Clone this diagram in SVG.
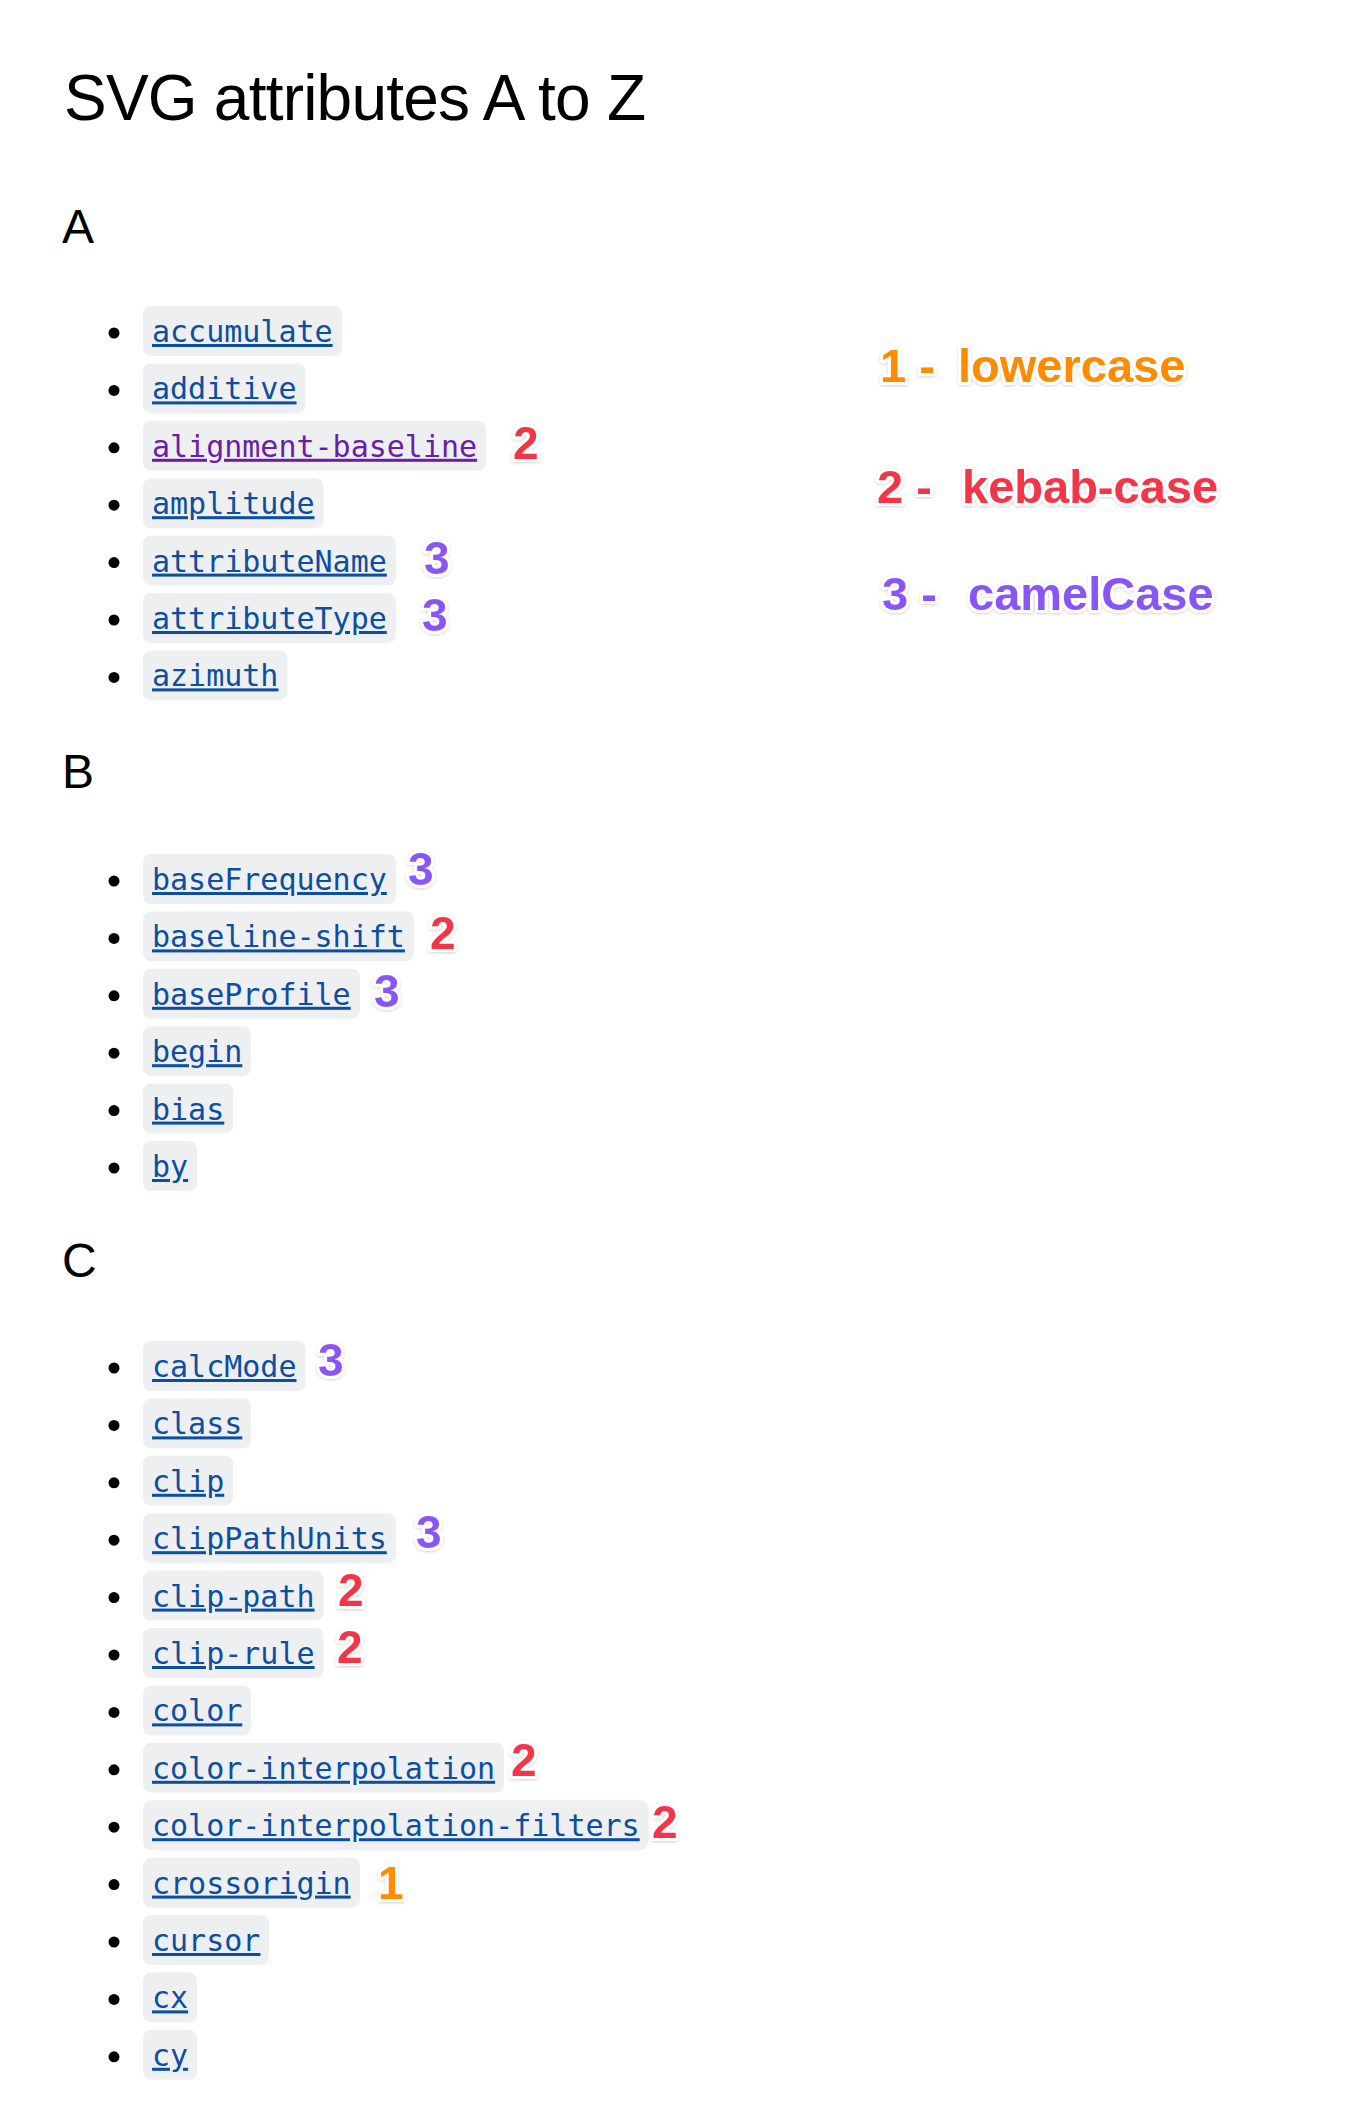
<svg xmlns="http://www.w3.org/2000/svg" width="1364" height="2118" viewBox="0 0 1364 2118">
<defs>
<style>
.h{font-family:"Liberation Sans",Arial,sans-serif;fill:#000}
.b{fill:#000}
.box{fill:#eeeff1}
.c{font-family:"DejaVu Sans Mono",monospace;font-size:30px;fill:#0b4ea2;text-decoration:underline}
.v{fill:#6a1ea8}
.n{font-family:"Liberation Sans",Arial,sans-serif;font-weight:bold;font-size:46px;stroke:#fff;stroke-width:6px;stroke-linejoin:round;paint-order:stroke;filter:url(#sh)}
.l{font-family:"Liberation Sans",Arial,sans-serif;font-weight:bold;font-size:47px;stroke:#fff;stroke-width:6px;stroke-linejoin:round;paint-order:stroke;filter:url(#sh)}
.o{fill:#ff8c00}.r{fill:#f23446}.p{fill:#8a55f7}
</style>
<filter id="sh" x="-20%" y="-20%" width="140%" height="140%"><feDropShadow dx="0" dy="1" stdDeviation="1.5" flood-color="#000" flood-opacity="0.18"/></filter>
</defs>
<text class="h" x="64" y="120" font-size="64" textLength="582">SVG attributes A to Z</text>
<text class="h" x="62" y="243" font-size="48">A</text>
<text class="h" x="62" y="788" font-size="48">B</text>
<text class="h" x="62" y="1277" font-size="48">C</text>

<g id="A-list">
<g id="accumulate" transform="translate(0,331)"><circle class="b" cx="114" cy="2" r="5.5"/><rect class="box" x="143" y="-25" width="199" height="50" rx="8"/><text class="c" x="152" y="11">accumulate</text></g>
<g id="additive" transform="translate(0,388.4)"><circle class="b" cx="114" cy="2" r="5.5"/><rect class="box" x="143" y="-25" width="162.5" height="50" rx="8"/><text class="c" x="152" y="11">additive</text></g>
<g id="alignment-baseline" transform="translate(0,445.8)"><circle class="b" cx="114" cy="2" r="5.5"/><rect class="box" x="143" y="-25" width="343" height="50" rx="8"/><text class="c v" x="152" y="11">alignment-baseline</text><text class="n r" x="513" y="13">2</text></g>
<g id="amplitude" transform="translate(0,503.2)"><circle class="b" cx="114" cy="2" r="5.5"/><rect class="box" x="143" y="-25" width="180.5" height="50" rx="8"/><text class="c" x="152" y="11">amplitude</text></g>
<g id="attributeName" transform="translate(0,560.6)"><circle class="b" cx="114" cy="2" r="5.5"/><rect class="box" x="143" y="-25" width="253" height="50" rx="8"/><text class="c" x="152" y="11">attributeName</text><text class="n p" x="424" y="13">3</text></g>
<g id="attributeType" transform="translate(0,618)"><circle class="b" cx="114" cy="2" r="5.5"/><rect class="box" x="143" y="-25" width="253" height="50" rx="8"/><text class="c" x="152" y="11">attributeType</text><text class="n p" x="422" y="13">3</text></g>
<g id="azimuth" transform="translate(0,675.4)"><circle class="b" cx="114" cy="2" r="5.5"/><rect class="box" x="143" y="-25" width="144.4" height="50" rx="8"/><text class="c" x="152" y="11">azimuth</text></g>
</g>

<g id="B-list">
<g id="baseFrequency" transform="translate(0,879)"><circle class="b" cx="114" cy="2" r="5.5"/><rect class="box" x="143" y="-25" width="253" height="50" rx="8"/><text class="c" x="152" y="11">baseFrequency</text><text class="n p" x="408" y="6">3</text></g>
<g id="baseline-shift" transform="translate(0,936.4)"><circle class="b" cx="114" cy="2" r="5.5"/><rect class="box" x="143" y="-25" width="271" height="50" rx="8"/><text class="c" x="152" y="11">baseline-shift</text><text class="n r" x="430" y="13">2</text></g>
<g id="baseProfile" transform="translate(0,993.8)"><circle class="b" cx="114" cy="2" r="5.5"/><rect class="box" x="143" y="-25" width="217" height="50" rx="8"/><text class="c" x="152" y="11">baseProfile</text><text class="n p" x="374" y="13">3</text></g>
<g id="begin" transform="translate(0,1051.2)"><circle class="b" cx="114" cy="2" r="5.5"/><rect class="box" x="143" y="-25" width="108" height="50" rx="8"/><text class="c" x="152" y="11">begin</text></g>
<g id="bias" transform="translate(0,1108.6)"><circle class="b" cx="114" cy="2" r="5.5"/><rect class="box" x="143" y="-25" width="90" height="50" rx="8"/><text class="c" x="152" y="11">bias</text></g>
<g id="by" transform="translate(0,1166)"><circle class="b" cx="114" cy="2" r="5.5"/><rect class="box" x="143" y="-25" width="54" height="50" rx="8"/><text class="c" x="152" y="11">by</text></g>
</g>

<g id="C-list">
<g id="calcMode" transform="translate(0,1366)"><circle class="b" cx="114" cy="2" r="5.5"/><rect class="box" x="143" y="-25" width="162.5" height="50" rx="8"/><text class="c" x="152" y="11">calcMode</text><text class="n p" x="318" y="10">3</text></g>
<g id="class" transform="translate(0,1423.4)"><circle class="b" cx="114" cy="2" r="5.5"/><rect class="box" x="143" y="-25" width="108" height="50" rx="8"/><text class="c" x="152" y="11">class</text></g>
<g id="clip" transform="translate(0,1480.8)"><circle class="b" cx="114" cy="2" r="5.5"/><rect class="box" x="143" y="-25" width="90" height="50" rx="8"/><text class="c" x="152" y="11">clip</text></g>
<g id="clipPathUnits" transform="translate(0,1538.2)"><circle class="b" cx="114" cy="2" r="5.5"/><rect class="box" x="143" y="-25" width="253" height="50" rx="8"/><text class="c" x="152" y="11">clipPathUnits</text><text class="n p" x="416" y="10">3</text></g>
<g id="clip-path" transform="translate(0,1595.6)"><circle class="b" cx="114" cy="2" r="5.5"/><rect class="box" x="143" y="-25" width="180.5" height="50" rx="8"/><text class="c" x="152" y="11">clip-path</text><text class="n r" x="338" y="10">2</text></g>
<g id="clip-rule" transform="translate(0,1653)"><circle class="b" cx="114" cy="2" r="5.5"/><rect class="box" x="143" y="-25" width="180.5" height="50" rx="8"/><text class="c" x="152" y="11">clip-rule</text><text class="n r" x="337" y="10">2</text></g>
<g id="color" transform="translate(0,1710.4)"><circle class="b" cx="114" cy="2" r="5.5"/><rect class="box" x="143" y="-25" width="108" height="50" rx="8"/><text class="c" x="152" y="11">color</text></g>
<g id="color-interpolation" transform="translate(0,1767.8)"><circle class="b" cx="114" cy="2" r="5.5"/><rect class="box" x="143" y="-25" width="361" height="50" rx="8"/><text class="c" x="152" y="11">color-interpolation</text><text class="n r" x="511" y="8">2</text></g>
<g id="color-interpolation-filters" transform="translate(0,1825.2)"><circle class="b" cx="114" cy="2" r="5.5"/><rect class="box" x="143" y="-25" width="505.6" height="50" rx="8"/><text class="c" x="152" y="11">color-interpolation-filters</text><text class="n r" x="652" y="13">2</text></g>
<g id="crossorigin" transform="translate(0,1882.6)"><circle class="b" cx="114" cy="2" r="5.5"/><rect class="box" x="143" y="-25" width="217" height="50" rx="8"/><text class="c" x="152" y="11">crossorigin</text><text class="n o" x="378" y="16">1</text></g>
<g id="cursor" transform="translate(0,1940)"><circle class="b" cx="114" cy="2" r="5.5"/><rect class="box" x="143" y="-25" width="126" height="50" rx="8"/><text class="c" x="152" y="11">cursor</text></g>
<g id="cx" transform="translate(0,1997.4)"><circle class="b" cx="114" cy="2" r="5.5"/><rect class="box" x="143" y="-25" width="54" height="50" rx="8"/><text class="c" x="152" y="11">cx</text></g>
<g id="cy" transform="translate(0,2054.8)"><circle class="b" cx="114" cy="2" r="5.5"/><rect class="box" x="143" y="-25" width="54" height="50" rx="8"/><text class="c" x="152" y="11">cy</text></g>
</g>

<g id="legend">
<text class="l o" x="880" y="382">1 -</text><text class="l o" x="958" y="382">lowercase</text>
<text class="l r" x="877" y="503">2 -</text><text class="l r" x="962" y="503">kebab-case</text>
<text class="l p" x="882" y="610">3 -</text><text class="l p" x="968" y="610">camelCase</text>
</g>
<g id="connectors"/>
</svg>
